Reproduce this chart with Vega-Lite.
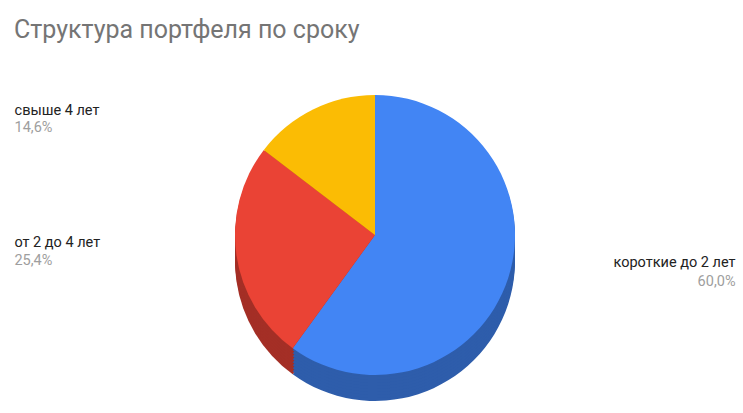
{
  "$schema": "https://vega.github.io/schema/vega-lite/v6.json",
  "width": 736,
  "height": 356,
  "autosize": {"type": "none"},
  "padding": {"left": 7, "top": 57, "right": 0, "bottom": 0},
  "background": "white",
  "title": {
    "text": "Структура портфеля по сроку",
    "anchor": "start",
    "frame": "group",
    "align": "left",
    "dx": 7,
    "offset": 14,
    "font": "Roboto",
    "fontSize": 25,
    "fontWeight": "normal",
    "color": "#757575"
  },
  "config": {
    "view": {"stroke": null},
    "locale": {"number": {"decimal": ",", "thousands": " ", "grouping": [3], "currency": ["", " ₽"]}}
  },
  "data": {
    "values": [
      {"term": "короткие до 2 лет", "share": 0.6},
      {"term": "от 2 до 4 лет", "share": 0.254},
      {"term": "свыше 4 лет", "share": 0.146}
    ]
  },
  "encoding": {
    "theta": {"field": "share", "type": "quantitative", "stack": true},
    "order": {"field": "term", "type": "ordinal", "sort": "ascending"}
  },
  "layer": [
    {"mark": {"type": "arc", "radius": 140, "yOffset": 26}, "encoding": {"color": {"field": "term", "type": "nominal", "legend": null, "scale": {"domain": ["короткие до 2 лет", "от 2 до 4 лет", "свыше 4 лет"], "range": ["#2e5dab", "#a42f26", "#b08503"]}}}},
    {"mark": {"type": "arc", "radius": 140, "yOffset": 23}, "encoding": {"color": {"field": "term", "type": "nominal", "legend": null, "scale": {"domain": ["короткие до 2 лет", "от 2 до 4 лет", "свыше 4 лет"], "range": ["#2e5dab", "#a42f26", "#b08503"]}}}},
    {"mark": {"type": "arc", "radius": 140, "yOffset": 20}, "encoding": {"color": {"field": "term", "type": "nominal", "legend": null, "scale": {"domain": ["короткие до 2 лет", "от 2 до 4 лет", "свыше 4 лет"], "range": ["#2e5dab", "#a42f26", "#b08503"]}}}},
    {"mark": {"type": "arc", "radius": 140, "yOffset": 17}, "encoding": {"color": {"field": "term", "type": "nominal", "legend": null, "scale": {"domain": ["короткие до 2 лет", "от 2 до 4 лет", "свыше 4 лет"], "range": ["#2e5dab", "#a42f26", "#b08503"]}}}},
    {"mark": {"type": "arc", "radius": 140, "yOffset": 14}, "encoding": {"color": {"field": "term", "type": "nominal", "legend": null, "scale": {"domain": ["короткие до 2 лет", "от 2 до 4 лет", "свыше 4 лет"], "range": ["#2e5dab", "#a42f26", "#b08503"]}}}},
    {"mark": {"type": "arc", "radius": 140, "yOffset": 11}, "encoding": {"color": {"field": "term", "type": "nominal", "legend": null, "scale": {"domain": ["короткие до 2 лет", "от 2 до 4 лет", "свыше 4 лет"], "range": ["#2e5dab", "#a42f26", "#b08503"]}}}},
    {"mark": {"type": "arc", "radius": 140, "yOffset": 8}, "encoding": {"color": {"field": "term", "type": "nominal", "legend": null, "scale": {"domain": ["короткие до 2 лет", "от 2 до 4 лет", "свыше 4 лет"], "range": ["#2e5dab", "#a42f26", "#b08503"]}}}},
    {"mark": {"type": "arc", "radius": 140, "yOffset": 5}, "encoding": {"color": {"field": "term", "type": "nominal", "legend": null, "scale": {"domain": ["короткие до 2 лет", "от 2 до 4 лет", "свыше 4 лет"], "range": ["#2e5dab", "#a42f26", "#b08503"]}}}},
    {"mark": {"type": "arc", "radius": 140, "yOffset": 2}, "encoding": {"color": {"field": "term", "type": "nominal", "legend": null, "scale": {"domain": ["короткие до 2 лет", "от 2 до 4 лет", "свыше 4 лет"], "range": ["#2e5dab", "#a42f26", "#b08503"]}}}},
    {
      "mark": {"type": "arc", "radius": 140},
      "encoding": {
        "color": {
          "field": "term",
          "type": "nominal",
          "legend": null,
          "scale": {"domain": ["короткие до 2 лет", "от 2 до 4 лет", "свыше 4 лет"], "range": ["#4285f4", "#ea4335", "#fbbc04"]}
        }
      }
    },
    {
      "mark": {"type": "text", "radius": 132, "align": "right", "baseline": "alphabetic", "dx": 235, "dy": -9, "font": "Roboto", "fontSize": 14.5, "color": "#222222"},
      "encoding": {"text": {"condition": {"test": "datum.term == 'короткие до 2 лет'", "field": "term"}, "value": ""}}
    },
    {
      "mark": {"type": "text", "radius": 132, "align": "right", "baseline": "alphabetic", "dx": 235, "dy": 10, "font": "Roboto", "fontSize": 14.5, "color": "#9e9e9e"},
      "encoding": {"text": {"condition": {"test": "datum.term == 'короткие до 2 лет'", "field": "share", "format": ".1%"}, "value": ""}}
    },
    {
      "mark": {"type": "text", "radius": 132, "align": "left", "baseline": "alphabetic", "dx": -230, "dy": -7, "font": "Roboto", "fontSize": 14.5, "color": "#222222"},
      "encoding": {"text": {"condition": {"test": "datum.term == 'от 2 до 4 лет'", "field": "term"}, "value": ""}}
    },
    {
      "mark": {"type": "text", "radius": 132, "align": "left", "baseline": "alphabetic", "dx": -230, "dy": 11, "font": "Roboto", "fontSize": 14.5, "color": "#9e9e9e"},
      "encoding": {"text": {"condition": {"test": "datum.term == 'от 2 до 4 лет'", "field": "share", "format": ".1%"}, "value": ""}}
    },
    {
      "mark": {"type": "text", "radius": 132, "align": "left", "baseline": "alphabetic", "dx": -302, "dy": -2, "font": "Roboto", "fontSize": 14.5, "color": "#222222"},
      "encoding": {"text": {"condition": {"test": "datum.term == 'свыше 4 лет'", "field": "term"}, "value": ""}}
    },
    {
      "mark": {"type": "text", "radius": 132, "align": "left", "baseline": "alphabetic", "dx": -302, "dy": 15, "font": "Roboto", "fontSize": 14.5, "color": "#9e9e9e"},
      "encoding": {"text": {"condition": {"test": "datum.term == 'свыше 4 лет'", "field": "share", "format": ".1%"}, "value": ""}}
    }
  ],
  "resolve": {"scale": {"color": "independent"}}
}
